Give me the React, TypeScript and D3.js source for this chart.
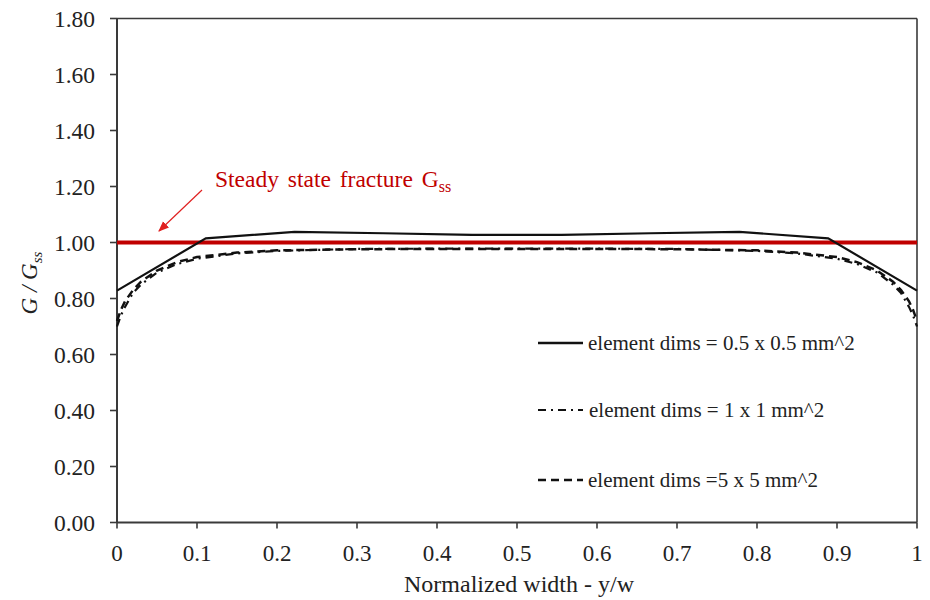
import React from "react";
import * as d3 from "d3";

const xTicks = [0, 0.1, 0.2, 0.3, 0.4, 0.5, 0.6, 0.7, 0.8, 0.9, 1];
const xTickLabels = ["0", "0.1", "0.2", "0.3", "0.4", "0.5", "0.6", "0.7", "0.8", "0.9", "1"];
const yTicks = [0, 0.2, 0.4, 0.6, 0.8, 1.0, 1.2, 1.4, 1.6, 1.8];

const fineX = [0, 0.111, 0.222, 0.333, 0.444, 0.556, 0.667, 0.778, 0.889, 1];
const fineY = [0.828, 1.015, 1.038, 1.033, 1.027, 1.027, 1.033, 1.038, 1.015, 0.828];

const midX = [0, 0.005, 0.01, 0.02, 0.03, 0.05, 0.075, 0.1, 0.15, 0.2, 0.3, 0.4, 0.5, 0.6, 0.7, 0.8, 0.85, 0.9, 0.925, 0.95, 0.97, 0.98, 0.99, 0.995, 1];
const midY = [0.70, 0.74, 0.77, 0.82, 0.85, 0.893, 0.923, 0.942, 0.961, 0.970, 0.977, 0.978, 0.978, 0.978, 0.977, 0.970, 0.961, 0.942, 0.923, 0.893, 0.85, 0.82, 0.77, 0.74, 0.70];

const coarseX = [0, 0.005, 0.01, 0.02, 0.03, 0.05, 0.075, 0.1, 0.15, 0.2, 0.3, 0.4, 0.5, 0.6, 0.7, 0.8, 0.85, 0.9, 0.925, 0.95, 0.97, 0.98, 0.99, 0.995, 1];
const coarseY = [0.72, 0.76, 0.79, 0.83, 0.86, 0.90, 0.93, 0.948, 0.964, 0.972, 0.976, 0.977, 0.977, 0.977, 0.976, 0.972, 0.964, 0.948, 0.93, 0.90, 0.86, 0.83, 0.79, 0.76, 0.72];

const steadyY = 1.0;

const legendLabels = [
  "element dims = 0.5 x 0.5 mm^2",
  "element dims = 1 x 1 mm^2",
  "element dims =5 x 5 mm^2",
];

const W = 930;
const H = 600;
const left = 117;
const right = 917;
const top = 18.5;
const bottom = 522.5;
const FONT = "Liberation Serif, Times New Roman, serif";
const tf = { fontFamily: FONT };

export default function App() {
  const x = d3.scaleLinear().domain([0, 1]).range([left, right]);
  const y = d3.scaleLinear().domain([0, 1.8]).range([bottom, top]);
  const line = d3
    .line<[number, number]>()
    .x((d) => x(d[0]))
    .y((d) => y(d[1]));

  const fine = fineX.map((v, i) => [v, fineY[i]] as [number, number]);
  const mid = midX.map((v, i) => [v, midY[i]] as [number, number]);
  const coarse = coarseX.map((v, i) => [v, coarseY[i]] as [number, number]);

  const axisColor = "#3a3a3a";
  const red = "#c00000";

  const legendStyles = [
    { dash: "none", w: 2.5 },
    { dash: "8,5,2,5", w: 2.2 },
    { dash: "8,5", w: 2.5 },
  ];
  const legendRows = [343, 410, 480];

  return (
    <svg
      width={W}
      height={H}
      style={{ position: "absolute", left: 0, top: 0, background: "#fff", fontFamily: FONT }}
    >
      <rect x={0} y={0} width={W} height={H} fill="#fff" />
      {/* box */}
      <line x1={left} x2={right} y1={top} y2={top} stroke={axisColor} strokeWidth={1.6} />
      <line x1={right} x2={right} y1={top} y2={bottom} stroke={axisColor} strokeWidth={1.6} />
      <line x1={left} x2={left} y1={top} y2={bottom} stroke={axisColor} strokeWidth={2} />
      <line x1={left} x2={right} y1={bottom} y2={bottom} stroke={axisColor} strokeWidth={2} />

      {/* y ticks */}
      {yTicks.map((t) => (
        <g key={"y" + t}>
          <line x1={left - 7} x2={left} y1={y(t)} y2={y(t)} stroke={axisColor} strokeWidth={1.6} />
          <text x={95} y={y(t) + 8} textAnchor="end" fontSize={23.5} fill="#222" style={tf}>
            {t.toFixed(2)}
          </text>
        </g>
      ))}
      {/* x ticks */}
      {xTicks.map((t, i) => (
        <g key={"x" + t}>
          <line x1={x(t)} x2={x(t)} y1={bottom} y2={bottom + 6} stroke={axisColor} strokeWidth={1.6} />
          <text x={x(t)} y={561} textAnchor="middle" fontSize={23} fill="#222" style={tf}>
            {xTickLabels[i]}
          </text>
        </g>
      ))}

      {/* axis titles */}
      <text x={519} y={592} textAnchor="middle" fontSize={24} fill="#222" style={tf}>
        Normalized width - y/w
      </text>
      <text
        transform={`translate(37,283) rotate(-90)`}
        textAnchor="middle"
        fontSize={23}
        fill="#222"
        fontStyle="italic"
        style={tf}
      >
        G / G
        <tspan fontSize={15} dy={5}>
          ss
        </tspan>
      </text>

      {/* steady state line */}
      <line x1={x(0)} x2={x(1)} y1={y(steadyY)} y2={y(steadyY)} stroke={red} strokeWidth={4} />

      {/* series */}
      <path d={line(coarse) || ""} fill="none" stroke="#111" strokeWidth={2.5} strokeDasharray="8,5" />
      <path d={line(mid) || ""} fill="none" stroke="#111" strokeWidth={2.2} strokeDasharray="8,5,2,5" />
      <path d={line(fine) || ""} fill="none" stroke="#111" strokeWidth={2.2} />

      {/* annotation */}
      <defs>
        <marker id="arr" viewBox="0 0 10 10" refX={9} refY={5} markerWidth={9} markerHeight={9} orient="auto">
          <path d="M0,1 L10,5 L0,9 Z" fill="#e02020" />
        </marker>
      </defs>
      <line x1={202} y1={190} x2={159} y2={231} stroke="#e02020" strokeWidth={1.2} markerEnd="url(#arr)" />
      <text x={215} y={187} fontSize={23.5} fill={red} wordSpacing={3} style={tf}>
        Steady state fracture G
        <tspan fontSize={16} dy={5}>
          ss
        </tspan>
      </text>

      {/* legend */}
      {legendLabels.map((lab, i) => (
        <g key={lab}>
          <line
            x1={538}
            x2={583}
            y1={legendRows[i]}
            y2={legendRows[i]}
            stroke="#111"
            strokeWidth={legendStyles[i].w}
            strokeDasharray={legendStyles[i].dash}
          />
          <text x={i === 1 ? 589 : 588} y={legendRows[i] + 7} fontSize={21} fill="#222" style={tf}>
            {lab}
          </text>
        </g>
      ))}
    </svg>
  );
}
